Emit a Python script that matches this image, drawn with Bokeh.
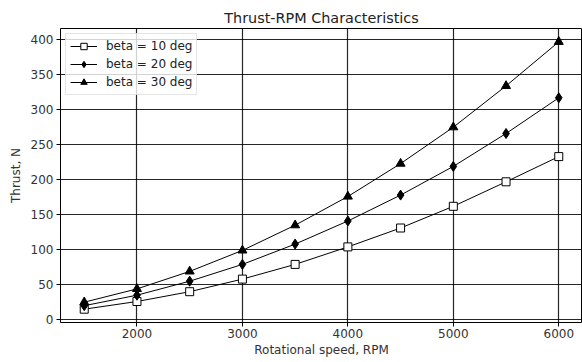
from bokeh.plotting import figure
from bokeh.models import Range1d, Legend, LegendItem, SingleIntervalTicker
from bokeh.embed import file_html
from bokeh.resources import INLINE

rpm = [1500, 2000, 2500, 3000, 3500, 4000, 4500, 5000, 5500, 6000]
thrust_b10 = [15, 26, 40, 58, 79, 104, 131, 162, 197, 233]
thrust_b20 = [20, 35, 55, 79, 108, 141, 178, 219, 266, 317]
thrust_b30 = [25, 44, 69, 99, 135, 176, 223, 275, 334, 397]
labels = ["beta = 10 deg", "beta = 20 deg", "beta = 30 deg"]

FONT = "DejaVu Sans"

p = figure(width=582, height=362, output_backend="svg", toolbar_location=None,
           x_range=Range1d(1275, 6225), y_range=Range1d(-4, 416),
           min_border_left=60, min_border_right=0, min_border_top=28, min_border_bottom=40,
           title="Thrust-RPM Characteristics")
p.title.align = "center"
p.title.text_font = FONT
p.title.text_font_size = "14.4px"
p.title.text_font_style = "normal"
p.title.text_color = "#222222"
p.title.offset = 0
p.title.standoff = 6

p.outline_line_color = "black"
p.outline_line_width = 1

for ax in (p.xaxis[0], p.yaxis[0]):
    ax.major_label_text_font = FONT
    ax.major_label_text_font_size = "12px"
    ax.major_label_text_color = "#333333"
    ax.axis_label_text_font = FONT
    ax.axis_label_text_font_size = "12px"
    ax.axis_label_text_font_style = "normal"
    ax.axis_label_text_color = "#333333"
    ax.minor_tick_line_color = None
    ax.major_tick_in = 0
    ax.major_tick_out = 4
    ax.axis_line_color = None
    ax.major_tick_line_color = "black"

p.xaxis[0].ticker = SingleIntervalTicker(interval=1000)
p.yaxis[0].ticker = SingleIntervalTicker(interval=50)
p.xaxis.axis_label = "Rotational speed, RPM"
p.yaxis.axis_label = "Thrust, N"
p.xaxis.axis_label_standoff = 2
p.yaxis.axis_label_standoff = 5
p.xaxis.major_label_standoff = 2
p.yaxis.major_label_standoff = 3

p.xgrid.grid_line_color = "black"
p.ygrid.grid_line_color = "black"
p.xgrid.grid_line_alpha = 0.85
p.ygrid.grid_line_alpha = 0.85
p.xgrid.grid_line_width = 1.2
p.ygrid.grid_line_width = 1.2

l1 = p.line(rpm, thrust_b10, line_color="black", line_width=1)
m1 = p.scatter(rpm, thrust_b10, marker="square", size=8, line_color="black", fill_color="white", line_width=1)
l2 = p.line(rpm, thrust_b20, line_color="black", line_width=1)
m2 = p.scatter(rpm, thrust_b20, marker="diamond", size=10, line_color="black", fill_color="black")
l3 = p.line(rpm, thrust_b30, line_color="black", line_width=1)
m3 = p.scatter(rpm, thrust_b30, marker="triangle", size=9, line_color="black", fill_color="black")

legend = Legend(items=[
    LegendItem(label=labels[0], renderers=[l1, m1]),
    LegendItem(label=labels[1], renderers=[l2, m2]),
    LegendItem(label=labels[2], renderers=[l3, m3]),
], location="top_left")
legend.label_text_font = FONT
legend.label_text_font_size = "12px"
legend.label_text_color = "#222222"
legend.glyph_width = 27
legend.glyph_height = 16
legend.spacing = 2
legend.padding = 4
legend.margin = 5
legend.label_standoff = 9
legend.label_height = 16
legend.border_line_color = "#cccccc"
legend.border_line_width = 1
legend.background_fill_alpha = 0.8
p.add_layout(legend)

open("out.html", "w").write(file_html(p, INLINE))
